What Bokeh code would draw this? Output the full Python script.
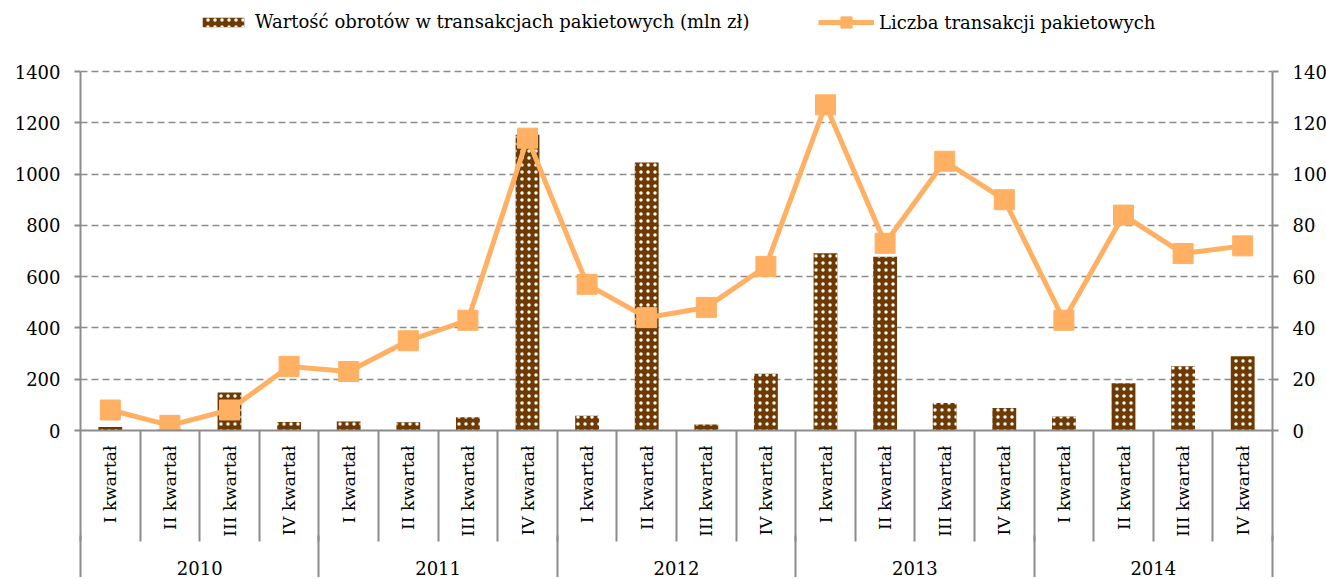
import math
import numpy as np
from bokeh.plotting import figure
from bokeh.models import Range1d, LinearAxis, FixedTicker, Legend, LegendItem, Grid
from bokeh.embed import file_html
from bokeh.resources import INLINE

# ---- data ----
years = ["2010", "2011", "2012", "2013", "2014"]
quarters = ["I kwartał", "II kwartał", "III kwartał", "IV kwartał"]
turnover = [14, 4, 148, 33, 35, 32, 52, 1153, 58, 1045, 23, 221, 691, 678, 107, 88, 55, 184, 251, 290]
count = [8, 2, 8, 25, 23, 35, 43, 114, 57, 44, 48, 64, 127, 73, 105, 90, 43, 84, 69, 72]
left_ticks = [0, 200, 400, 600, 800, 1000, 1200, 1400]
right_ticks = [0, 20, 40, 60, 80, 100, 120, 140]
bar_label = "Wartość obrotów w transakcjach pakietowych (mln zł)"
line_label = "Liczba transakcji pakietowych"

# ---- styles / layout ----
FONT = "DejaVu Serif"
FS = "18px"
FSQ = "17px"
GRAY = "#8c8c8c"
BROWN = "#6e3a02"
ORANGE = "#ffb062"
LEFT, RIGHT = 80, 54
FRAME_W = 1192
FRAME_H = 430      # frame spans from top of canvas down to the zero line
TOP_PAD = 71       # space above the 1400 gridline (holds the legend)
ratio = FRAME_H / (FRAME_H - TOP_PAD)

labels = [q for y in years for q in quarters]
n = len(labels)
xs = list(range(n))
bounds = [i - 0.5 for i in range(n + 1)]
nq = len(quarters)
year_centers = [nq * k + (nq - 1) / 2 for k in range(len(years))]
year_bounds = [nq * k - 0.5 for k in range(len(years) + 1)]

p = figure(frame_width=FRAME_W, frame_height=FRAME_H,
           x_range=Range1d(-0.5, n - 0.5),
           y_range=Range1d(left_ticks[0], left_ticks[-1] * ratio),
           x_axis_type=None, y_axis_type=None,
           output_backend="svg", toolbar_location=None,
           min_border_left=LEFT, min_border_right=RIGHT, min_border_top=0, min_border_bottom=0)
p.extra_y_ranges = {"n": Range1d(right_ticks[0], right_ticks[-1] * ratio)}
p.outline_line_color = None
p.background_fill_color = "white"
p.border_fill_color = "white"

grid = Grid(dimension=1, ticker=FixedTicker(ticks=left_ticks[1:]),
            grid_line_color=GRAY, grid_line_width=1.6, grid_line_dash="7 4")
p.add_layout(grid)

def yaxis(ticks, **kw):
    return LinearAxis(ticker=FixedTicker(ticks=ticks), bounds=(ticks[0], ticks[-1]),
                      axis_line_color=GRAY, axis_line_width=2,
                      major_tick_in=0, major_tick_out=6,
                      major_tick_line_color=GRAY, major_tick_line_width=2,
                      minor_tick_line_color=None,
                      major_label_standoff=14,
                      major_label_text_font=FONT, major_label_text_font_size=FS,
                      major_label_text_color="black", **kw)

p.add_layout(yaxis(left_ticks), "left")
p.add_layout(yaxis(right_ticks, y_range_name="n"), "right")

xa = LinearAxis(ticker=FixedTicker(ticks=xs, minor_ticks=bounds),
                major_label_overrides={i: lab for i, lab in zip(xs, labels)},
                major_label_orientation=math.pi / 2,
                major_label_text_align="right", major_label_text_baseline="middle",
                major_tick_in=0, major_tick_out=0, major_tick_line_color=None,
                minor_tick_in=0, minor_tick_out=111,
                minor_tick_line_color=GRAY, minor_tick_line_width=2,
                axis_line_color=GRAY, axis_line_width=2,
                major_label_standoff=-96,
                major_label_text_font=FONT, major_label_text_font_size=FSQ,
                major_label_text_color="black")
p.add_layout(xa, "below")

xb = LinearAxis(ticker=FixedTicker(ticks=year_centers, minor_ticks=year_bounds),
                major_label_overrides={c: y for c, y in zip(year_centers, years)},
                major_tick_in=0, major_tick_out=0, major_tick_line_color=None,
                minor_tick_in=4, minor_tick_out=40,
                minor_tick_line_color=GRAY, minor_tick_line_width=2,
                axis_line_color=None,
                major_label_standoff=-19,
                major_label_text_font=FONT, major_label_text_font_size=FS,
                major_label_text_color="black")
p.add_layout(xb, "below")

bars = p.vbar(x=xs, top=turnover, bottom=0, width=0.4,
              fill_color=BROWN, line_color=None,
              hatch_pattern="dot", hatch_color="white", hatch_scale=7, hatch_weight=1.2)
ln = p.line(xs, count, y_range_name="n", line_color=ORANGE, line_width=5, line_join="round")
sq = p.scatter(xs, count, y_range_name="n", marker="square", size=20,
               fill_color=ORANGE, line_color=ORANGE)

common = dict(orientation="horizontal", padding=0, margin=0, spacing=0, label_height=20,
              border_line_color=None, background_fill_alpha=0,
              label_text_font=FONT, label_text_font_size=FS, label_text_color="black")
leg1 = Legend(items=[LegendItem(label=bar_label, renderers=[bars])],
              location=(117, 398), glyph_width=52, glyph_height=12, label_standoff=6, **common)
leg2 = Legend(items=[LegendItem(label=line_label, renderers=[ln, sq])],
              location=(738, 394), glyph_width=56, glyph_height=28, label_standoff=5, **common)
p.add_layout(leg1, "center")
p.add_layout(leg2, "center")

open("out.html", "w").write(file_html(p, INLINE))
